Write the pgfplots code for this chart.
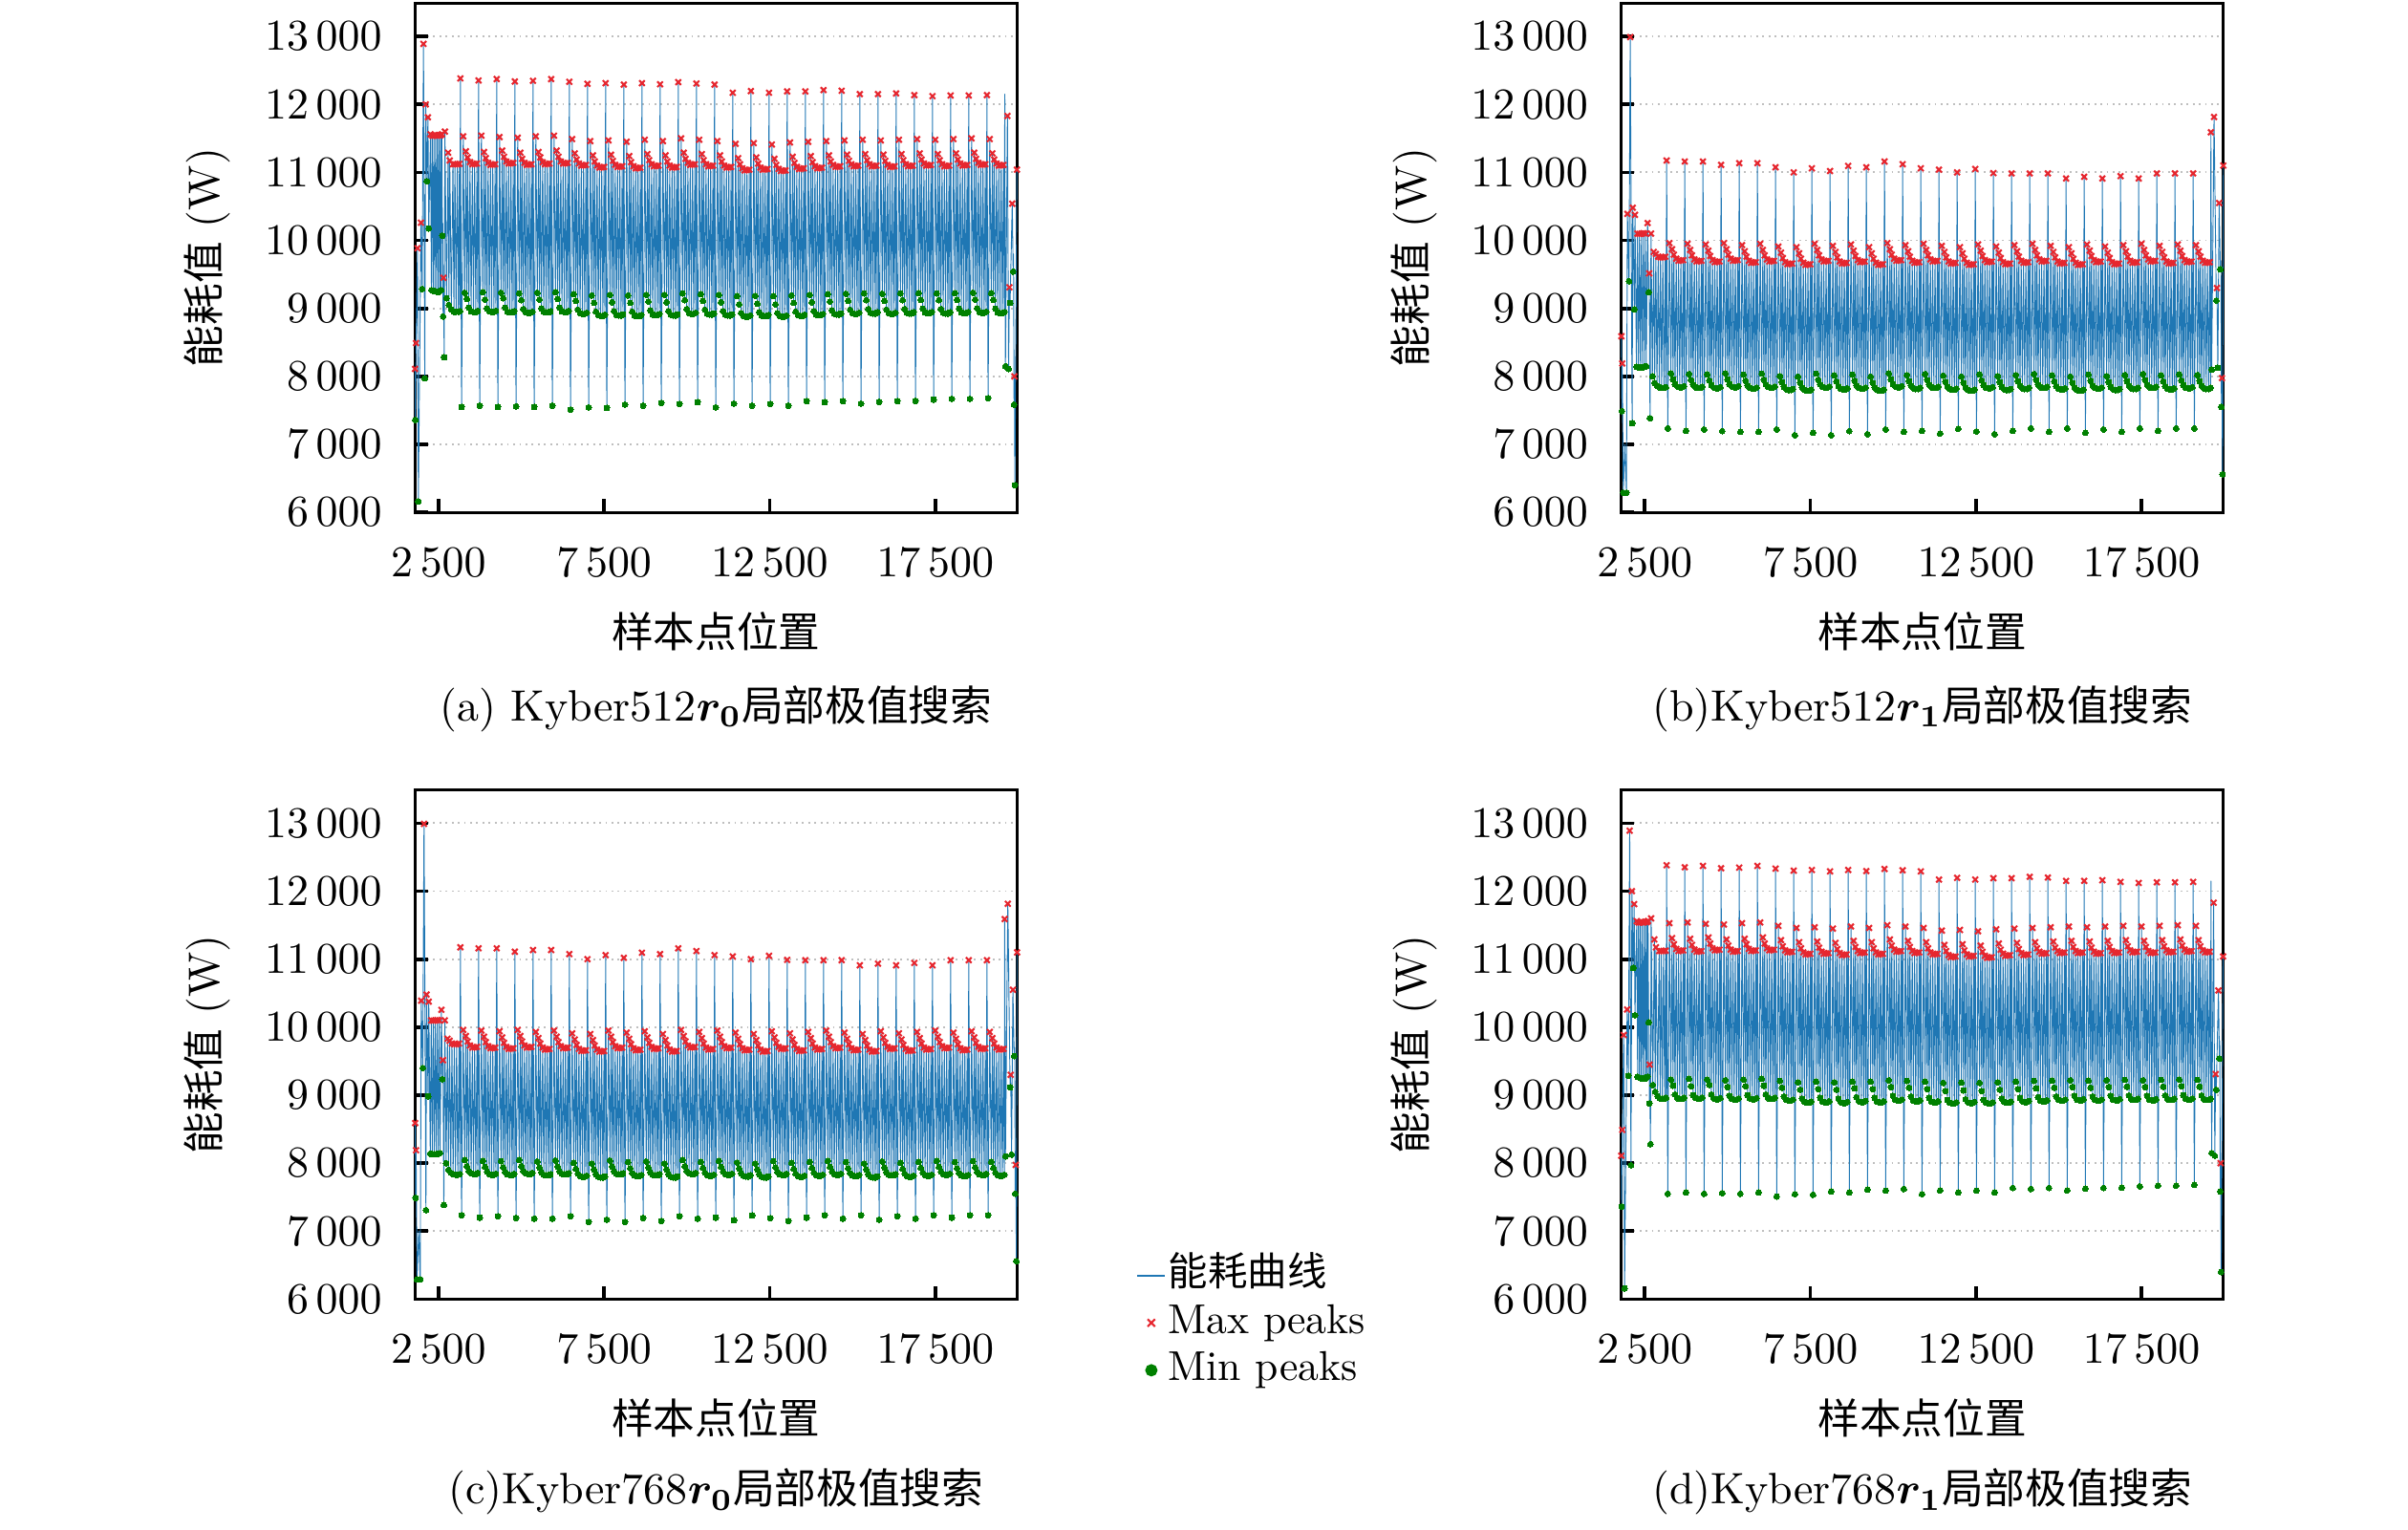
\documentclass[border=0pt]{standalone}
\usepackage{fontspec}
\usepackage{bm}
\usepackage{pgfplots}
\usepackage{pgfplotstable}
\pgfplotsset{compat=1.18}
\newfontfamily\cjk{Noto Sans CJK SC}[Scale=0.95]
\definecolor{mplblue}{HTML}{1F77B4}
\definecolor{mplred}{HTML}{E6262E}
\definecolor{mplgreen}{HTML}{008000}

\pgfplotstableread[row sep=\\]{
x y t\\
1790 8110 1\\ 1800 7360 0\\ 1820 8490 1\\ 1865 9885 1\\ 1890 6160 0\\ 1968 10260 1\\ 2005 9285 0\\ 2045 12890 1\\ 2084 7970 0\\ 2113 12000 1\\ 2150 10870 0\\ 2180 11810 1\\ 2205 10175 0\\
2258 11560 1\\ 2285 9270 0\\ 2310 11540 1\\ 2340 9260 0\\ 2360 11540 1\\ 2390 9250 0\\ 2410 11545 1\\ 2440 9245 0\\ 2460 11540 1\\ 2490 9240 0\\ 2510 11550 1\\ 2540 9255 0\\ 2560 11545 1\\ 2580 9270 0\\ 2600 11560 1\\
2615 10070 0\\ 2628 10250 2\\ 2638 8880 0\\ 2648 9450 1\\ 2672 8280 0\\ 2693 11600 1\\ 2742 9150 0\\ 2790 11290 1\\ 2815 9050 0\\ 2838 11175 1\\ 2887 8985 0\\ 2935 11120 1\\ 2965 8950 0\\ 2995 11120 1\\ 3030 8950 0\\ 3065 11120 1\\ 3100 8950 0\\ 3130 11125 1\\ 3145 8960 0\\
3160 12382 1\\ 3195 7550 0\\ 3245 11530 1\\ 3290 9230 0\\ 3325 11310 1\\ 3355 9140 0\\ 3380 11220 1\\ 3415 9010 0\\ 3450 11150 1\\ 3485 8955 0\\ 3520 11120 1\\ 3555 8945 0\\ 3590 11125 1\\ 3625 8945 0\\ 3660 11130 1\\ 3685 8960 0\\
3708 12352 1\\ 3743 7570 0\\ 3793 11540 1\\ 3838 9240 0\\ 3873 11300 1\\ 3903 9130 0\\ 3928 11210 1\\ 3963 9000 0\\ 3998 11140 1\\ 4033 8960 0\\ 4068 11110 1\\ 4103 8950 0\\ 4138 11115 1\\ 4173 8950 0\\ 4208 11120 1\\ 4233 8965 0\\
4257 12372 1\\ 4292 7550 0\\ 4342 11520 1\\ 4387 9230 0\\ 4422 11320 1\\ 4452 9150 0\\ 4477 11230 1\\ 4512 9010 0\\ 4547 11160 1\\ 4582 8950 0\\ 4617 11130 1\\ 4652 8940 0\\ 4687 11135 1\\ 4722 8940 0\\ 4757 11140 1\\ 4782 8955 0\\
4805 12337 1\\ 4840 7560 0\\ 4890 11510 1\\ 4935 9220 0\\ 4970 11290 1\\ 5000 9120 0\\ 5025 11200 1\\ 5060 8990 0\\ 5095 11140 1\\ 5130 8945 0\\ 5165 11110 1\\ 5200 8935 0\\ 5235 11115 1\\ 5270 8935 0\\ 5305 11120 1\\ 5330 8950 0\\
5353 12347 1\\ 5388 7550 0\\ 5438 11530 1\\ 5483 9230 0\\ 5518 11300 1\\ 5548 9130 0\\ 5573 11220 1\\ 5608 9000 0\\ 5643 11150 1\\ 5678 8950 0\\ 5713 11120 1\\ 5748 8940 0\\ 5783 11125 1\\ 5818 8940 0\\ 5853 11130 1\\ 5878 8955 0\\
5902 12372 1\\ 5937 7570 0\\ 5987 11540 1\\ 6032 9240 0\\ 6067 11320 1\\ 6097 9140 0\\ 6122 11230 1\\ 6157 9010 0\\ 6192 11160 1\\ 6227 8955 0\\ 6262 11130 1\\ 6297 8945 0\\ 6332 11135 1\\ 6367 8945 0\\ 6402 11140 1\\ 6427 8960 0\\
6450 12332 1\\ 6485 7510 0\\ 6535 11490 1\\ 6580 9210 0\\ 6615 11280 1\\ 6645 9110 0\\ 6670 11190 1\\ 6705 8980 0\\ 6740 11130 1\\ 6775 8930 0\\ 6810 11100 1\\ 6845 8920 0\\ 6880 11105 1\\ 6915 8920 0\\ 6950 11110 1\\ 6975 8935 0\\
6998 12302 1\\ 7033 7545 0\\ 7083 11460 1\\ 7128 9190 0\\ 7163 11250 1\\ 7193 9080 0\\ 7218 11160 1\\ 7253 8950 0\\ 7288 11100 1\\ 7323 8900 0\\ 7358 11070 1\\ 7393 8890 0\\ 7428 11075 1\\ 7463 8890 0\\ 7498 11080 1\\ 7523 8905 0\\
7546 12312 1\\ 7581 7535 0\\ 7631 11470 1\\ 7676 9200 0\\ 7711 11260 1\\ 7741 9090 0\\ 7766 11170 1\\ 7801 8960 0\\ 7836 11110 1\\ 7871 8905 0\\ 7906 11080 1\\ 7941 8895 0\\ 7976 11085 1\\ 8011 8895 0\\ 8046 11090 1\\ 8071 8910 0\\
8095 12291 1\\ 8130 7585 0\\ 8180 11450 1\\ 8225 9190 0\\ 8260 11240 1\\ 8290 9080 0\\ 8315 11150 1\\ 8350 8950 0\\ 8385 11090 1\\ 8420 8895 0\\ 8455 11060 1\\ 8490 8885 0\\ 8525 11065 1\\ 8560 8885 0\\ 8595 11070 1\\ 8620 8900 0\\
8643 12312 1\\ 8678 7570 0\\ 8728 11480 1\\ 8773 9200 0\\ 8808 11270 1\\ 8838 9100 0\\ 8863 11180 1\\ 8898 8970 0\\ 8933 11120 1\\ 8968 8910 0\\ 9003 11090 1\\ 9038 8900 0\\ 9073 11095 1\\ 9108 8900 0\\ 9143 11100 1\\ 9168 8915 0\\
9191 12296 1\\ 9226 7610 0\\ 9276 11460 1\\ 9321 9200 0\\ 9356 11250 1\\ 9386 9090 0\\ 9411 11160 1\\ 9446 8960 0\\ 9481 11100 1\\ 9516 8905 0\\ 9551 11070 1\\ 9586 8895 0\\ 9621 11075 1\\ 9656 8895 0\\ 9691 11080 1\\ 9716 8910 0\\
9740 12327 1\\ 9775 7595 0\\ 9825 11500 1\\ 9870 9220 0\\ 9905 11290 1\\ 9935 9120 0\\ 9960 11200 1\\ 9995 8990 0\\ 10030 11140 1\\ 10065 8930 0\\ 10100 11110 1\\ 10135 8920 0\\ 10170 11115 1\\ 10205 8920 0\\ 10240 11120 1\\ 10265 8935 0\\
10288 12307 1\\ 10323 7620 0\\ 10373 11480 1\\ 10418 9210 0\\ 10453 11270 1\\ 10483 9110 0\\ 10508 11180 1\\ 10543 8980 0\\ 10578 11120 1\\ 10613 8920 0\\ 10648 11090 1\\ 10683 8910 0\\ 10718 11095 1\\ 10753 8910 0\\ 10788 11100 1\\ 10813 8925 0\\
10836 12291 1\\ 10871 7545 0\\ 10921 11460 1\\ 10966 9200 0\\ 11001 11250 1\\ 11031 9090 0\\ 11056 11160 1\\ 11091 8960 0\\ 11126 11100 1\\ 11161 8905 0\\ 11196 11070 1\\ 11231 8895 0\\ 11266 11075 1\\ 11301 8895 0\\ 11336 11080 1\\ 11361 8910 0\\
11385 12171 1\\ 11420 7600 0\\ 11470 11420 1\\ 11515 9180 0\\ 11550 11210 1\\ 11580 9060 0\\ 11605 11120 1\\ 11640 8930 0\\ 11675 11060 1\\ 11710 8890 0\\ 11745 11030 1\\ 11780 8880 0\\ 11815 11035 1\\ 11850 8880 0\\ 11885 11040 1\\ 11910 8895 0\\
11933 12196 1\\ 11968 7570 0\\ 12018 11430 1\\ 12063 9185 0\\ 12098 11220 1\\ 12128 9070 0\\ 12153 11130 1\\ 12188 8940 0\\ 12223 11070 1\\ 12258 8895 0\\ 12293 11040 1\\ 12328 8885 0\\ 12363 11045 1\\ 12398 8885 0\\ 12433 11050 1\\ 12458 8900 0\\
12481 12171 1\\ 12516 7595 0\\ 12566 11410 1\\ 12611 9180 0\\ 12646 11200 1\\ 12676 9060 0\\ 12701 11110 1\\ 12736 8930 0\\ 12771 11050 1\\ 12806 8890 0\\ 12841 11020 1\\ 12876 8880 0\\ 12911 11025 1\\ 12946 8880 0\\ 12981 11030 1\\ 13006 8895 0\\
13029 12191 1\\ 13064 7570 0\\ 13114 11440 1\\ 13159 9190 0\\ 13194 11230 1\\ 13224 9080 0\\ 13249 11140 1\\ 13284 8950 0\\ 13319 11080 1\\ 13354 8900 0\\ 13389 11050 1\\ 13424 8890 0\\ 13459 11055 1\\ 13494 8890 0\\ 13529 11060 1\\ 13554 8905 0\\
13578 12191 1\\ 13613 7635 0\\ 13663 11450 1\\ 13708 9200 0\\ 13743 11240 1\\ 13773 9090 0\\ 13798 11150 1\\ 13833 8960 0\\ 13868 11090 1\\ 13903 8910 0\\ 13938 11060 1\\ 13973 8900 0\\ 14008 11065 1\\ 14043 8900 0\\ 14078 11070 1\\ 14103 8915 0\\
14126 12211 1\\ 14161 7620 0\\ 14211 11460 1\\ 14256 9210 0\\ 14291 11250 1\\ 14321 9100 0\\ 14346 11160 1\\ 14381 8970 0\\ 14416 11110 1\\ 14451 8920 0\\ 14486 11080 1\\ 14521 8910 0\\ 14556 11085 1\\ 14591 8910 0\\ 14626 11090 1\\ 14651 8925 0\\
14674 12201 1\\ 14709 7635 0\\ 14759 11470 1\\ 14804 9215 0\\ 14839 11260 1\\ 14869 9110 0\\ 14894 11170 1\\ 14929 8980 0\\ 14964 11120 1\\ 14999 8930 0\\ 15034 11090 1\\ 15069 8920 0\\ 15104 11095 1\\ 15139 8920 0\\ 15174 11100 1\\ 15199 8935 0\\
15223 12151 1\\ 15258 7600 0\\ 15308 11480 1\\ 15353 9220 0\\ 15388 11270 1\\ 15418 9120 0\\ 15443 11180 1\\ 15478 8990 0\\ 15513 11120 1\\ 15548 8935 0\\ 15583 11090 1\\ 15618 8925 0\\ 15653 11095 1\\ 15688 8925 0\\ 15723 11100 1\\ 15748 8940 0\\
15771 12151 1\\ 15806 7625 0\\ 15856 11470 1\\ 15901 9215 0\\ 15936 11260 1\\ 15966 9110 0\\ 15991 11170 1\\ 16026 8980 0\\ 16061 11110 1\\ 16096 8930 0\\ 16131 11080 1\\ 16166 8920 0\\ 16201 11085 1\\ 16236 8920 0\\ 16271 11090 1\\ 16296 8935 0\\
16319 12161 1\\ 16354 7635 0\\ 16404 11480 1\\ 16449 9220 0\\ 16484 11270 1\\ 16514 9120 0\\ 16539 11180 1\\ 16574 8990 0\\ 16609 11120 1\\ 16644 8935 0\\ 16679 11090 1\\ 16714 8925 0\\ 16749 11095 1\\ 16784 8925 0\\ 16819 11100 1\\ 16844 8940 0\\
16868 12136 1\\ 16903 7640 0\\ 16953 11490 1\\ 16998 9225 0\\ 17033 11280 1\\ 17063 9125 0\\ 17088 11190 1\\ 17123 8995 0\\ 17158 11130 1\\ 17193 8940 0\\ 17228 11100 1\\ 17263 8930 0\\ 17298 11105 1\\ 17333 8930 0\\ 17368 11110 1\\ 17393 8945 0\\
17416 12121 1\\ 17451 7660 0\\ 17501 11480 1\\ 17546 9220 0\\ 17581 11270 1\\ 17611 9120 0\\ 17636 11180 1\\ 17671 8990 0\\ 17706 11120 1\\ 17741 8935 0\\ 17776 11090 1\\ 17811 8925 0\\ 17846 11095 1\\ 17881 8925 0\\ 17916 11100 1\\ 17941 8940 0\\
17964 12131 1\\ 17999 7670 0\\ 18049 11490 1\\ 18094 9225 0\\ 18129 11280 1\\ 18159 9125 0\\ 18184 11190 1\\ 18219 8995 0\\ 18254 11130 1\\ 18289 8940 0\\ 18324 11100 1\\ 18359 8930 0\\ 18394 11105 1\\ 18429 8930 0\\ 18464 11110 1\\ 18489 8945 0\\
18512 12131 1\\ 18547 7670 0\\ 18597 11500 1\\ 18642 9230 0\\ 18677 11290 1\\ 18707 9130 0\\ 18732 11200 1\\ 18767 9000 0\\ 18802 11140 1\\ 18837 8945 0\\ 18872 11110 1\\ 18907 8935 0\\ 18942 11115 1\\ 18977 8935 0\\ 19012 11120 1\\ 19037 8950 0\\
19061 12136 1\\ 19096 7680 0\\ 19146 11490 1\\ 19191 9225 0\\ 19226 11280 1\\ 19256 9125 0\\ 19281 11190 1\\ 19316 8995 0\\ 19351 11130 1\\ 19386 8940 0\\ 19421 11100 1\\ 19456 8930 0\\ 19491 11105 1\\ 19526 8930 0\\ 19561 11110 1\\ 19586 8945 0\\
19600 12150 2\\ 19620 8150 0\\ 19680 11830 1\\ 19715 8110 0\\ 19740 9310 1\\ 19760 9080 0\\ 19825 10540 1\\ 19853 9540 0\\ 19865 9800 2\\ 19880 7585 0\\ 19890 8000 1\\ 19905 6400 0\\ 19966 11040 1\\ 19980 10600 2\\
}\tabA

\pgfplotstableread[row sep=\\]{
x y t\\
1795 8590 1\\ 1808 7490 0\\ 1820 8190 1\\ 1852 6290 0\\ 1900 7000 2\\ 1947 6290 0\\ 1976 10390 1\\ 2024 9400 0\\ 2062 12990 1\\ 2119 7310 0\\ 2138 10480 1\\ 2185 8985 0\\ 2205 10375 1\\
2250 8140 0\\ 2280 10100 1\\ 2310 8130 0\\ 2340 10095 1\\ 2370 8135 0\\ 2400 10100 1\\ 2430 8130 0\\ 2460 10105 1\\ 2490 8140 0\\ 2519 10100 1\\ 2545 8150 0\\ 2586 10255 1\\ 2614 9235 0\\ 2633 9515 1\\ 2660 7385 0\\ 2690 10100 1\\
2730 8000 0\\ 2770 9830 1\\ 2800 7900 0\\ 2835 9800 1\\ 2870 7860 0\\ 2905 9760 1\\ 2940 7840 0\\ 2975 9750 1\\ 3010 7830 0\\ 3045 9750 1\\ 3080 7830 0\\ 3120 9760 1\\ 3140 7840 0\\
3160 11175 1\\ 3195 7235 0\\ 3245 9960 1\\ 3290 8045 0\\ 3325 9870 1\\ 3355 7955 0\\ 3380 9790 1\\ 3415 7885 0\\ 3450 9730 1\\ 3485 7850 0\\ 3520 9700 1\\ 3555 7840 0\\ 3590 9705 1\\ 3625 7840 0\\ 3660 9710 1\\ 3685 7855 0\\
3708 11160 1\\ 3743 7200 0\\ 3793 9950 1\\ 3838 8035 0\\ 3873 9860 1\\ 3903 7945 0\\ 3928 9780 1\\ 3963 7875 0\\ 3998 9720 1\\ 4033 7840 0\\ 4068 9690 1\\ 4103 7830 0\\ 4138 9695 1\\ 4173 7830 0\\ 4208 9700 1\\ 4233 7845 0\\
4257 11160 1\\ 4292 7220 0\\ 4342 9940 1\\ 4387 8030 0\\ 4422 9850 1\\ 4452 7940 0\\ 4477 9770 1\\ 4512 7870 0\\ 4547 9710 1\\ 4582 7835 0\\ 4617 9680 1\\ 4652 7825 0\\ 4687 9685 1\\ 4722 7825 0\\ 4757 9690 1\\ 4782 7840 0\\
4805 11110 1\\ 4840 7195 0\\ 4890 9960 1\\ 4935 8045 0\\ 4970 9870 1\\ 5000 7955 0\\ 5025 9790 1\\ 5060 7885 0\\ 5095 9730 1\\ 5130 7850 0\\ 5165 9700 1\\ 5200 7840 0\\ 5235 9705 1\\ 5270 7840 0\\ 5305 9710 1\\ 5330 7855 0\\
5353 11135 1\\ 5388 7185 0\\ 5438 9930 1\\ 5483 8025 0\\ 5518 9840 1\\ 5548 7935 0\\ 5573 9760 1\\ 5608 7865 0\\ 5643 9700 1\\ 5678 7830 0\\ 5713 9670 1\\ 5748 7820 0\\ 5783 9675 1\\ 5818 7820 0\\ 5853 9680 1\\ 5878 7835 0\\
5902 11135 1\\ 5937 7185 0\\ 5987 9950 1\\ 6032 8040 0\\ 6067 9860 1\\ 6097 7950 0\\ 6122 9780 1\\ 6157 7880 0\\ 6192 9720 1\\ 6227 7845 0\\ 6262 9690 1\\ 6297 7835 0\\ 6332 9695 1\\ 6367 7835 0\\ 6402 9700 1\\ 6427 7850 0\\
6450 11075 1\\ 6485 7220 0\\ 6535 9910 1\\ 6580 8005 0\\ 6615 9820 1\\ 6645 7915 0\\ 6670 9740 1\\ 6705 7845 0\\ 6740 9680 1\\ 6775 7810 0\\ 6810 9650 1\\ 6845 7800 0\\ 6880 9655 1\\ 6915 7800 0\\ 6950 9660 1\\ 6975 7815 0\\
6998 11000 1\\ 7033 7135 0\\ 7083 9900 1\\ 7128 7995 0\\ 7163 9810 1\\ 7193 7905 0\\ 7218 9730 1\\ 7253 7835 0\\ 7288 9670 1\\ 7323 7800 0\\ 7358 9640 1\\ 7393 7790 0\\ 7428 9645 1\\ 7463 7790 0\\ 7498 9650 1\\ 7523 7805 0\\
7546 11060 1\\ 7581 7170 0\\ 7631 9950 1\\ 7676 8040 0\\ 7711 9860 1\\ 7741 7950 0\\ 7766 9780 1\\ 7801 7880 0\\ 7836 9720 1\\ 7871 7845 0\\ 7906 9690 1\\ 7941 7835 0\\ 7976 9695 1\\ 8011 7835 0\\ 8046 9700 1\\ 8071 7850 0\\
8095 11020 1\\ 8130 7135 0\\ 8180 9920 1\\ 8225 8015 0\\ 8260 9830 1\\ 8290 7925 0\\ 8315 9750 1\\ 8350 7855 0\\ 8385 9690 1\\ 8420 7820 0\\ 8455 9660 1\\ 8490 7810 0\\ 8525 9665 1\\ 8560 7810 0\\ 8595 9670 1\\ 8620 7825 0\\
8643 11095 1\\ 8678 7195 0\\ 8728 9940 1\\ 8773 8025 0\\ 8808 9850 1\\ 8838 7935 0\\ 8863 9770 1\\ 8898 7865 0\\ 8933 9710 1\\ 8968 7830 0\\ 9003 9680 1\\ 9038 7820 0\\ 9073 9685 1\\ 9108 7820 0\\ 9143 9690 1\\ 9168 7835 0\\
9191 11075 1\\ 9226 7150 0\\ 9276 9900 1\\ 9321 7995 0\\ 9356 9810 1\\ 9386 7905 0\\ 9411 9730 1\\ 9446 7835 0\\ 9481 9670 1\\ 9516 7800 0\\ 9551 9640 1\\ 9586 7790 0\\ 9621 9645 1\\ 9656 7790 0\\ 9691 9650 1\\ 9716 7805 0\\
9740 11160 1\\ 9775 7220 0\\ 9825 9960 1\\ 9870 8045 0\\ 9905 9870 1\\ 9935 7955 0\\ 9960 9790 1\\ 9995 7885 0\\ 10030 9730 1\\ 10065 7850 0\\ 10100 9700 1\\ 10135 7840 0\\ 10170 9705 1\\ 10205 7840 0\\ 10240 9710 1\\ 10265 7855 0\\
10288 11120 1\\ 10323 7185 0\\ 10373 9930 1\\ 10418 8020 0\\ 10453 9840 1\\ 10483 7930 0\\ 10508 9760 1\\ 10543 7860 0\\ 10578 9700 1\\ 10613 7825 0\\ 10648 9670 1\\ 10683 7815 0\\ 10718 9675 1\\ 10753 7815 0\\ 10788 9680 1\\ 10813 7830 0\\
10836 11060 1\\ 10871 7200 0\\ 10921 9950 1\\ 10966 8035 0\\ 11001 9860 1\\ 11031 7945 0\\ 11056 9780 1\\ 11091 7875 0\\ 11126 9720 1\\ 11161 7840 0\\ 11196 9690 1\\ 11231 7830 0\\ 11266 9695 1\\ 11301 7830 0\\ 11336 9700 1\\ 11361 7845 0\\
11385 11040 1\\ 11420 7160 0\\ 11470 9920 1\\ 11515 8010 0\\ 11550 9830 1\\ 11580 7920 0\\ 11605 9750 1\\ 11640 7850 0\\ 11675 9690 1\\ 11710 7815 0\\ 11745 9660 1\\ 11780 7805 0\\ 11815 9665 1\\ 11850 7805 0\\ 11885 9670 1\\ 11910 7820 0\\
11933 11000 1\\ 11968 7230 0\\ 12018 9900 1\\ 12063 7995 0\\ 12098 9810 1\\ 12128 7905 0\\ 12153 9730 1\\ 12188 7835 0\\ 12223 9670 1\\ 12258 7800 0\\ 12293 9640 1\\ 12328 7790 0\\ 12363 9645 1\\ 12398 7790 0\\ 12433 9650 1\\ 12458 7805 0\\
12481 11050 1\\ 12516 7190 0\\ 12566 9940 1\\ 12611 8030 0\\ 12646 9850 1\\ 12676 7940 0\\ 12701 9770 1\\ 12736 7870 0\\ 12771 9710 1\\ 12806 7835 0\\ 12841 9680 1\\ 12876 7825 0\\ 12911 9685 1\\ 12946 7825 0\\ 12981 9690 1\\ 13006 7840 0\\
13029 10990 1\\ 13064 7150 0\\ 13114 9910 1\\ 13159 8005 0\\ 13194 9820 1\\ 13224 7915 0\\ 13249 9740 1\\ 13284 7845 0\\ 13319 9680 1\\ 13354 7810 0\\ 13389 9650 1\\ 13424 7800 0\\ 13459 9655 1\\ 13494 7800 0\\ 13529 9660 1\\ 13554 7815 0\\
13578 10985 1\\ 13613 7200 0\\ 13663 9930 1\\ 13708 8020 0\\ 13743 9840 1\\ 13773 7930 0\\ 13798 9760 1\\ 13833 7860 0\\ 13868 9700 1\\ 13903 7825 0\\ 13938 9670 1\\ 13973 7815 0\\ 14008 9675 1\\ 14043 7815 0\\ 14078 9680 1\\ 14103 7830 0\\
14126 10985 1\\ 14161 7235 0\\ 14211 9950 1\\ 14256 8035 0\\ 14291 9860 1\\ 14321 7945 0\\ 14346 9780 1\\ 14381 7875 0\\ 14416 9720 1\\ 14451 7840 0\\ 14486 9690 1\\ 14521 7830 0\\ 14556 9695 1\\ 14591 7830 0\\ 14626 9700 1\\ 14651 7845 0\\
14674 10985 1\\ 14709 7185 0\\ 14759 9920 1\\ 14804 8015 0\\ 14839 9830 1\\ 14869 7925 0\\ 14894 9750 1\\ 14929 7855 0\\ 14964 9690 1\\ 14999 7820 0\\ 15034 9660 1\\ 15069 7810 0\\ 15104 9665 1\\ 15139 7810 0\\ 15174 9670 1\\ 15199 7825 0\\
15223 10910 1\\ 15258 7235 0\\ 15308 9900 1\\ 15353 7995 0\\ 15388 9810 1\\ 15418 7905 0\\ 15443 9730 1\\ 15478 7835 0\\ 15513 9670 1\\ 15548 7800 0\\ 15583 9640 1\\ 15618 7790 0\\ 15653 9645 1\\ 15688 7790 0\\ 15723 9650 1\\ 15748 7805 0\\
15771 10935 1\\ 15806 7170 0\\ 15856 9940 1\\ 15901 8025 0\\ 15936 9850 1\\ 15966 7935 0\\ 15991 9770 1\\ 16026 7865 0\\ 16061 9710 1\\ 16096 7830 0\\ 16131 9680 1\\ 16166 7820 0\\ 16201 9685 1\\ 16236 7820 0\\ 16271 9690 1\\ 16296 7835 0\\
16319 10910 1\\ 16354 7220 0\\ 16404 9910 1\\ 16449 8005 0\\ 16484 9820 1\\ 16514 7915 0\\ 16539 9740 1\\ 16574 7845 0\\ 16609 9680 1\\ 16644 7810 0\\ 16679 9650 1\\ 16714 7800 0\\ 16749 9655 1\\ 16784 7800 0\\ 16819 9660 1\\ 16844 7815 0\\
16868 10945 1\\ 16903 7185 0\\ 16953 9930 1\\ 16998 8020 0\\ 17033 9840 1\\ 17063 7930 0\\ 17088 9760 1\\ 17123 7860 0\\ 17158 9700 1\\ 17193 7825 0\\ 17228 9670 1\\ 17263 7815 0\\ 17298 9675 1\\ 17333 7815 0\\ 17368 9680 1\\ 17393 7830 0\\
17416 10910 1\\ 17451 7235 0\\ 17501 9950 1\\ 17546 8035 0\\ 17581 9860 1\\ 17611 7945 0\\ 17636 9780 1\\ 17671 7875 0\\ 17706 9720 1\\ 17741 7840 0\\ 17776 9690 1\\ 17811 7830 0\\ 17846 9695 1\\ 17881 7830 0\\ 17916 9700 1\\ 17941 7845 0\\
17964 10985 1\\ 17999 7200 0\\ 18049 9920 1\\ 18094 8015 0\\ 18129 9830 1\\ 18159 7925 0\\ 18184 9750 1\\ 18219 7855 0\\ 18254 9690 1\\ 18289 7820 0\\ 18324 9660 1\\ 18359 7810 0\\ 18394 9665 1\\ 18429 7810 0\\ 18464 9670 1\\ 18489 7825 0\\
18512 10985 1\\ 18547 7235 0\\ 18597 9940 1\\ 18642 8030 0\\ 18677 9850 1\\ 18707 7940 0\\ 18732 9770 1\\ 18767 7870 0\\ 18802 9710 1\\ 18837 7835 0\\ 18872 9680 1\\ 18907 7825 0\\ 18942 9685 1\\ 18977 7825 0\\ 19012 9690 1\\ 19037 7840 0\\
19061 10985 1\\ 19096 7235 0\\ 19146 9930 1\\ 19191 8020 0\\ 19226 9840 1\\ 19256 7930 0\\ 19281 9760 1\\ 19316 7860 0\\ 19351 9700 1\\ 19386 7825 0\\ 19421 9670 1\\ 19456 7815 0\\ 19491 9675 1\\ 19526 7815 0\\ 19561 9680 1\\ 19586 7830 0\\
19597 11590 1\\ 19620 8100 0\\ 19692 11815 1\\ 19760 9115 0\\ 19778 9300 1\\ 19806 8125 0\\ 19845 10550 1\\ 19883 9575 0\\ 19900 9700 2\\ 19915 7550 0\\ 19930 7975 1\\ 19950 6560 0\\ 19972 11100 1\\
}\tabB

\pgfplotsset{
  /pgf/number format/1000 sep={\,},
  kyb/.style={
    scale only axis, width=137.2pt, height=116pt, anchor=north west,
    xmin=1785, xmax=19975, ymin=6000, ymax=13490,
    xtick={2500,7500,12500,17500},
    ytick={6000,7000,8000,9000,10000,11000,12000,13000},
    scaled ticks=false, tick pos=left, tick align=inside,
    major tick length=3pt,
    major tick style={black, line width=0.8pt},
    axis line style={line width=0.6pt},
    ymajorgrids,
    y grid style={densely dotted, black!25, line width=0.4pt},
    xticklabel style={anchor=center, yshift=-11.4pt},
    yticklabel style={anchor=east, xshift=-4pt},
    xlabel={\cjk 样本点位置},
    ylabel={{\cjk 能耗值} (W)},
    xlabel style={at={(axis description cs:0.5,-0.234)}, anchor=center},
    ylabel style={at={(axis description cs:-0.344,0.5)}, anchor=center},
    every axis title shift=0pt,
    title style={at={(axis description cs:0.5,-0.385)}, anchor=center, yshift=0pt},
  },
  sig/.style={mplblue, line width=0.2pt, line join=round},
  maxp/.style={only marks, mark=x, mark size=0.9pt, mplred, mark options={line width=0.45pt},
    restrict expr to domain={\thisrow{t}}{0.5:1.5}},
  minp/.style={only marks, mark=*, mark size=0.65pt, mplgreen, mark options={draw=mplgreen, fill=mplgreen, line width=0pt},
    restrict expr to domain={\thisrow{t}}{-0.5:0.5}},
}

\begin{document}
\begin{tikzpicture}
\path (0pt,0pt) rectangle (548.5pt,-348.2pt);

\begin{axis}[kyb, at={(94.5pt,-0.7pt)},
  title={(a) Kyber512$\bm{r}_{\bm{0}}${\cjk 局部极值搜索}}]
\addplot[sig] table[x=x,y=y] {\tabA};
\addplot[maxp] table[x=x,y=y] {\tabA};
\addplot[minp] table[x=x,y=y] {\tabA};
\end{axis}

\begin{axis}[kyb, at={(369.25pt,-0.7pt)},
  title={(b)Kyber512$\bm{r}_{\bm{1}}${\cjk 局部极值搜索}}]
\addplot[sig] table[x=x,y=y] {\tabB};
\addplot[maxp] table[x=x,y=y] {\tabB};
\addplot[minp] table[x=x,y=y] {\tabB};
\end{axis}

\begin{axis}[kyb, at={(94.5pt,-179.9pt)},
  title={(c)Kyber768$\bm{r}_{\bm{0}}${\cjk 局部极值搜索}},
  title style={at={(axis description cs:0.5,-0.378)}},
  legend cell align=left,
  legend style={at={(axis description cs:1.175,0.11)}, anchor=north west,
    draw=none, fill=none, font=\fontsize{9.5}{11}\selectfont,
    row sep=0.5pt, nodes={inner sep=0.5pt, text height=7pt, text depth=2.3pt}}]
\addplot[sig, legend image code/.code={\draw[mplblue, line width=0.4pt] (0pt,0pt) -- (6.3pt,0pt);}] table[x=x,y=y] {\tabB};
\addplot[maxp, legend image code/.code={\draw[mplred, line width=0.4pt] plot[mark=x, mark size=1.2pt] coordinates {(3.15pt,0pt)};}] table[x=x,y=y] {\tabB};
\addplot[minp, legend image code/.code={\fill[mplgreen] (3.15pt,0pt) circle (1.2pt);}] table[x=x,y=y] {\tabB};
\legend{{\cjk 能耗曲线}, Max peaks, Min peaks}
\end{axis}

\begin{axis}[kyb, at={(369.25pt,-179.9pt)},
  title={(d)Kyber768$\bm{r}_{\bm{1}}${\cjk 局部极值搜索}},
  title style={at={(axis description cs:0.5,-0.378)}}]
\addplot[sig] table[x=x,y=y] {\tabA};
\addplot[maxp] table[x=x,y=y] {\tabA};
\addplot[minp] table[x=x,y=y] {\tabA};
\end{axis}
\end{tikzpicture}
\end{document}
